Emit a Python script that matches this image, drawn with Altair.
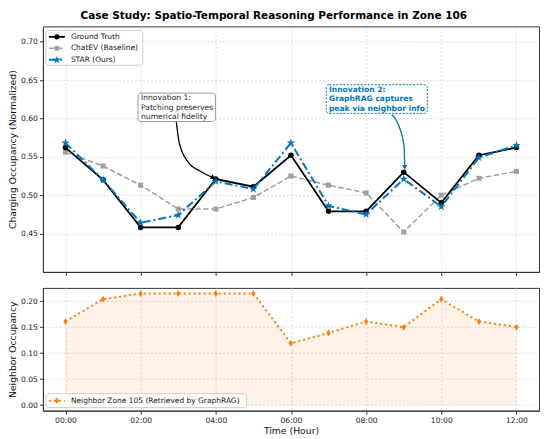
import altair as alt
import pandas as pd

# ---------------- data ----------------
HOURS = list(range(13))
GROUND_TRUTH = [0.562, 0.520, 0.458, 0.458, 0.521, 0.511, 0.552, 0.479, 0.479, 0.530, 0.490, 0.552, 0.562]
CHATEV = [0.556, 0.538, 0.513, 0.482, 0.482, 0.497, 0.525, 0.513, 0.503, 0.452, 0.500, 0.522, 0.531]
STAR = [0.568, 0.520, 0.464, 0.474, 0.518, 0.508, 0.568, 0.486, 0.475, 0.521, 0.485, 0.549, 0.565]
NEIGHBOR = [0.161, 0.204, 0.215, 0.215, 0.215, 0.215, 0.119, 0.139, 0.161, 0.150, 0.204, 0.161, 0.150]

X_TICKS = [0, 2, 4, 6, 8, 10, 12]
TOP_Y_TICKS = [0.45, 0.50, 0.55, 0.60, 0.65, 0.70]
BOTTOM_Y_TICKS = [0.00, 0.05, 0.10, 0.15, 0.20]

LABELS = ["Ground Truth", "ChatEV (Baseline)", "STAR (Ours)"]
NEIGHBOR_LABEL = "Neighbor Zone 105 (Retrieved by GraphRAG)"
TITLE = "Case Study: Spatio-Temporal Reasoning Performance in Zone 106"
NOTE1_TEXT = "Innovation 1:\nPatching preserves\nnumerical fidelity"
NOTE2_TEXT = "Innovation 2:\nGraphRAG captures\npeak via neighbor info"

# annotation anchors (data coordinates: hour, value)
NOTE1_BOX_HOURS = [1.93, 3.99]
NOTE1_BOX_VALUES = [0.633, 0.596]
NOTE1_TEXT_AT = [2.01, 0.6313]
NOTE1_ARROW_HOURS = [2.948, 3.026, 3.261, 3.600, 3.913]
NOTE1_ARROW_VALUES = [0.5963, 0.5686, 0.5434, 0.5309, 0.5233]

NOTE2_BOX_HOURS = [6.94, 9.63]
NOTE2_BOX_VALUES = [0.644, 0.6066]
NOTE2_TEXT_AT = [7.01, 0.6419]
NOTE2_ARROW_HOURS = [8.688, 8.904, 9.008, 9.027]
NOTE2_ARROW_VALUES = [0.6048, 0.5859, 0.5649, 0.5372]

# ---------------- styling ----------------
FONT = "DejaVu Sans"
BLACK = "#000000"
GRAY = "#a0a0a0"
BLUE = "#0077BB"
ORANGE = "#ff7f0e"
STAR_PATH = ("M0,-1L0.225,-0.309L0.951,-0.309L0.363,0.118L0.588,0.809L0,0.382"
             "L-0.588,0.809L-0.363,0.118L-0.951,-0.309L-0.225,-0.309Z")
THIN_DIAMOND = "M0,-1L0.6,0L0,1L-0.6,0Z"

W = 497
H_TOP = 246
H_BOT = 123

X_SCALE = alt.Scale(domain=[-0.6, 12.6], nice=False, zero=False)
LABEL_EXPR = "(datum.value < 10 ? '0' : '') + datum.value + ':00'"


def x_enc(bottom):
    if bottom:
        ax = alt.Axis(values=X_TICKS, labelExpr=LABEL_EXPR, title="Time (Hour)")
    else:
        ax = alt.Axis(values=X_TICKS, labels=False, title="")
    return alt.X("hour:Q", scale=X_SCALE, axis=ax)


def x2_enc():
    return alt.X2("hour2:Q")


TOP_Y = alt.Y("value:Q", scale=alt.Scale(domain=[0.40, 0.72], nice=False, zero=False),
              axis=alt.Axis(values=TOP_Y_TICKS, format=".2f", title="Charging Occupancy (Normalized)"))
BOT_Y = alt.Y("value:Q", scale=alt.Scale(domain=[-0.0107, 0.2257], nice=False, zero=False),
              axis=alt.Axis(values=BOTTOM_Y_TICKS, format=".2f", title="Neighbor Occupancy"))


def series_df(vals):
    return pd.DataFrame({"hour": HOURS, "value": vals})


def series_layers(vals, color, dash, width, shape, size):
    df = series_df(vals)
    line_kwargs = dict(color=color, strokeWidth=width)
    if dash:
        line_kwargs["strokeDash"] = dash
    line = alt.Chart(df).mark_line(**line_kwargs).encode(x=x_enc(False), y=TOP_Y)
    pts = alt.Chart(df).mark_point(shape=shape, filled=True, size=size, color=color,
                                   opacity=1).encode(x=x_enc(False), y=TOP_Y)
    return [line, pts]


gt_layers = series_layers(GROUND_TRUTH, BLACK, None, 1.8, "circle", 30)
ce_layers = series_layers(CHATEV, GRAY, [5.5, 2.5], 1.5, "square", 26)
st_layers = series_layers(STAR, BLUE, [8, 3, 2, 3], 2.0, STAR_PATH, 80)


def note_layers(box_h, box_v, text_at, text, arrow_h, arrow_v, color, bold,
                box_stroke, box_dash, arrow_color, head_angle):
    box_df = pd.DataFrame({"hour": [box_h[0]], "hour2": [box_h[1]],
                           "value": [box_v[0]], "value2": [box_v[1]]})
    rect_kwargs = dict(fill="white", stroke=box_stroke, strokeWidth=1, cornerRadius=3)
    if box_dash:
        rect_kwargs["strokeDash"] = box_dash
    rect = alt.Chart(box_df).mark_rect(**rect_kwargs).encode(
        x=x_enc(False), x2=x2_enc(), y=TOP_Y, y2=alt.Y2("value2:Q"))
    txt_df = pd.DataFrame({"hour": [text_at[0]], "value": [text_at[1]], "label": [text]})
    txt = alt.Chart(txt_df).mark_text(
        align="left", baseline="top", lineBreak="\n", font=FONT, fontSize=7.6,
        lineHeight=9.2, color=color, fontWeight="bold" if bold else "normal"
    ).encode(x=x_enc(False), y=TOP_Y, text="label:N")
    arr_df = pd.DataFrame({"hour": arrow_h, "value": arrow_v, "i": list(range(len(arrow_h)))})
    arr = alt.Chart(arr_df).mark_line(color=arrow_color, strokeWidth=1.3,
                                      interpolate="monotone").encode(
        x=x_enc(False), y=TOP_Y, order="i:Q")
    head_df = pd.DataFrame({"hour": [arrow_h[-1]], "value": [arrow_v[-1]]})
    head = alt.Chart(head_df).mark_point(shape="triangle", filled=True, size=28,
                                         color=arrow_color, angle=head_angle,
                                         opacity=1).encode(x=x_enc(False), y=TOP_Y)
    return [arr, head, rect, txt]


note1 = note_layers(NOTE1_BOX_HOURS, NOTE1_BOX_VALUES, NOTE1_TEXT_AT, NOTE1_TEXT,
                    NOTE1_ARROW_HOURS, NOTE1_ARROW_VALUES, "#222222", False,
                    "#999999", None, BLACK, 117)
note2 = note_layers(NOTE2_BOX_HOURS, NOTE2_BOX_VALUES, NOTE2_TEXT_AT, NOTE2_TEXT,
                    NOTE2_ARROW_HOURS, NOTE2_ARROW_VALUES, BLUE, True,
                    BLUE, [2, 1.5], BLUE, 180)


def legend_entry(label, y, color, dash, shape, size, lw):
    df = pd.DataFrame({"label": [label]})
    rule_kwargs = dict(color=color, strokeWidth=lw)
    if dash:
        rule_kwargs["strokeDash"] = dash
    rule = alt.Chart(df).mark_rule(**rule_kwargs).encode(
        x=alt.value(6), x2=alt.value(22), y=alt.value(y))
    pt = alt.Chart(df).mark_point(shape=shape, filled=True, size=size, color=color,
                                  opacity=1).encode(x=alt.value(14), y=alt.value(y))
    tx = alt.Chart(df).mark_text(align="left", baseline="middle", font=FONT,
                                 fontSize=7.5, color="#222222").encode(
        x=alt.value(28), y=alt.value(y), text="label:N")
    return [rule, pt, tx]


def legend_box(x1, x2, y1, y2):
    df = pd.DataFrame({"label": ["box"]})
    return alt.Chart(df).mark_rect(fill="white", fillOpacity=0.85, stroke="#cccccc",
                                   strokeWidth=1, cornerRadius=3).encode(
        x=alt.value(x1), x2=alt.value(x2), y=alt.value(y1), y2=alt.value(y2))


top_legend = [legend_box(3, 100, 4, 39)]
top_legend += legend_entry(LABELS[0], 10.5, BLACK, None, "circle", 26, 1.8)
top_legend += legend_entry(LABELS[1], 22, GRAY, [5.5, 2.5], "square", 22, 1.5)
top_legend += legend_entry(LABELS[2], 33.5, BLUE, [8, 3, 2, 3], STAR_PATH, 70, 2.0)

top = alt.layer(*ce_layers, *gt_layers, *st_layers, *note1, *note2, *top_legend).properties(
    width=W, height=H_TOP)

# ---------------- bottom panel ----------------
nb_df = series_df(NEIGHBOR)
area = alt.Chart(nb_df).mark_area(color=ORANGE, opacity=0.1).encode(
    x=x_enc(True), y=BOT_Y, y2=alt.datum(0))
nb_line = alt.Chart(nb_df).mark_line(color=ORANGE, strokeWidth=2, strokeDash=[2, 3]).encode(
    x=x_enc(True), y=BOT_Y)
nb_pts = alt.Chart(nb_df).mark_point(shape=THIN_DIAMOND, filled=True, size=50, color=ORANGE,
                                     opacity=1).encode(x=x_enc(True), y=BOT_Y)

bot_legend = [legend_box(3, 204, H_BOT - 17, H_BOT - 3)]
bot_legend += legend_entry(NEIGHBOR_LABEL, H_BOT - 10, ORANGE, [2, 3], THIN_DIAMOND, 45, 2.0)

bottom = alt.layer(area, nb_line, nb_pts, *bot_legend).properties(width=W, height=H_BOT)

chart = alt.vconcat(top, bottom, spacing=10).properties(
    title=alt.TitleParams(TITLE, font=FONT, fontSize=10.5, fontWeight="bold",
                          color="#000000", anchor="middle", offset=4),
    padding={"left": 0, "top": 3, "right": 2, "bottom": 0},
).configure_axis(
    labelFont=FONT, labelFontSize=7.6, labelColor="#222222",
    titleFont=FONT, titleFontSize=9.3, titleFontWeight="normal", titleColor="#111111",
    tickColor="#333333", tickSize=3.5, labelPadding=2, titlePadding=3,
    domainColor="#333333", gridColor="#cfcfcf", gridDash=[2, 2], gridWidth=0.8,
).configure_view(stroke="#333333", strokeWidth=1)

chart.save("out.html", embed_options={"renderer": "svg", "actions": False})
